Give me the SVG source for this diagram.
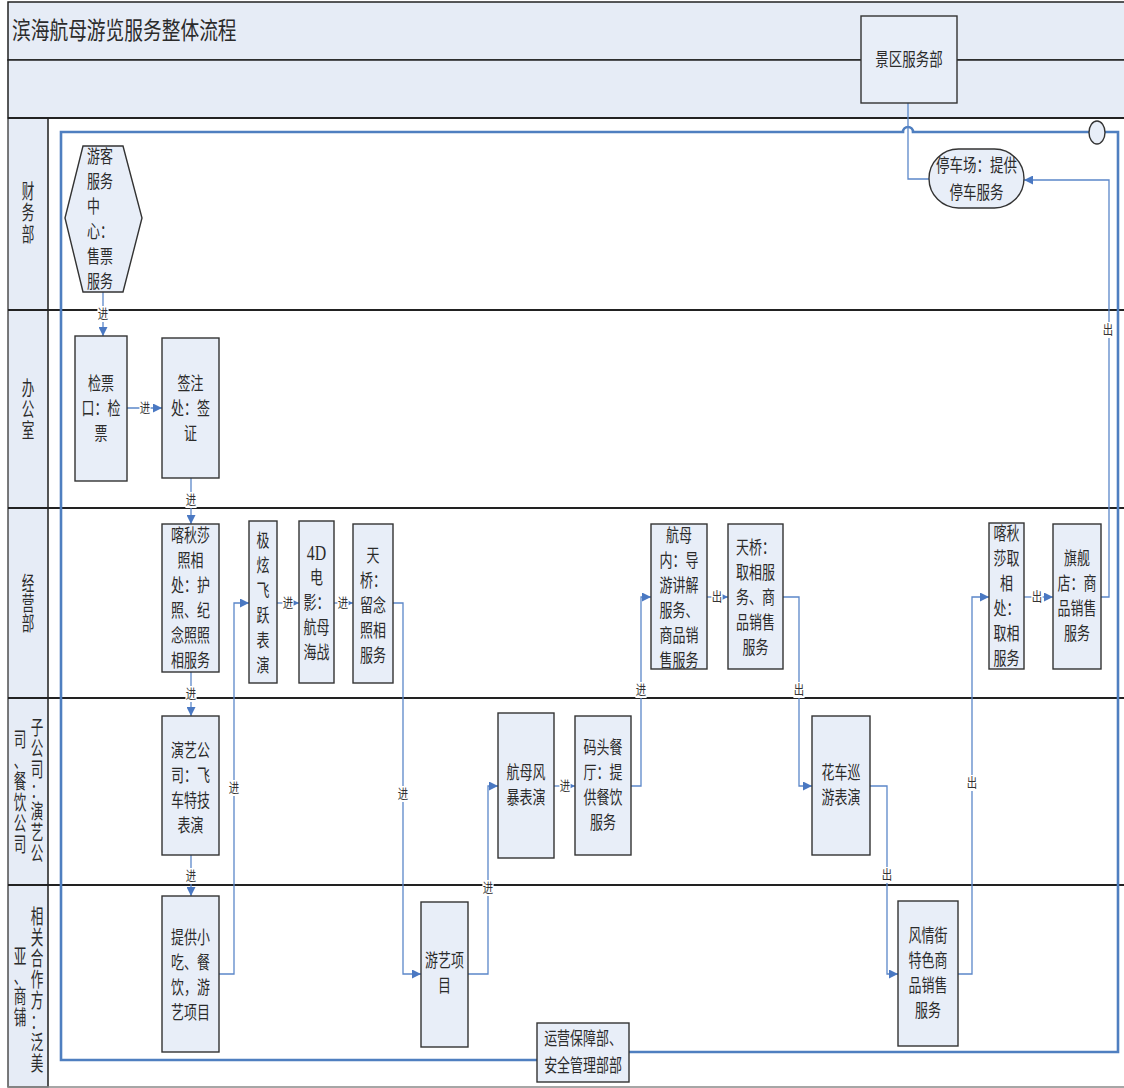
<svg xmlns="http://www.w3.org/2000/svg" width="1124" height="1088" viewBox="0 0 1124 1088">
<style>
.band{fill:#e6ecf6;stroke:#222;stroke-width:1.5}
.node{fill:#e8eef8;stroke:#333;stroke-width:1.4}
.t{font-family:"Liberation Serif","Noto Sans CJK SC",serif;font-size:18px;fill:#2b2b2b;dominant-baseline:central;text-anchor:middle}
.ts{text-anchor:start}
.lane{font-size:20px}
.div{stroke:#222;stroke-width:2}
.conn{fill:none;stroke:#5b87c9;stroke-width:1.3}
.loop{fill:none;stroke:#4f7fc0;stroke-width:2.6}
.l{font-family:"Liberation Serif","Noto Sans CJK SC",serif;font-size:13px;fill:#333;dominant-baseline:central;text-anchor:middle}
.lb{fill:#fff}
</style>
<defs>
<marker id="arr" viewBox="0 0 10 10" refX="10" refY="5" markerWidth="9" markerHeight="9" markerUnits="userSpaceOnUse" orient="auto">
<path d="M0,0 L10,5 L0,10 z" fill="#4a78c2"/>
</marker>
</defs>
<rect width="1124" height="1088" fill="#fff"/>
<g id="frame">
<rect class="band" x="8" y="2" width="1130" height="58"/>
<rect class="band" x="8" y="60" width="1130" height="58"/>
<g transform="translate(12,0) scale(0.78,1)"><text class="t ts" x="0" y="31" style="font-size:24px">滨海航母游览服务整体流程</text></g>
<rect x="8" y="118" width="40" height="969" fill="#e6ecf6" stroke="#444" stroke-width="1.4"/>
<line x1="48" y1="118" x2="48" y2="1087" stroke="#444" stroke-width="1.4"/>
<line class="div" x1="8" y1="118" x2="1130" y2="118"/>
<line class="div" x1="8" y1="310" x2="1130" y2="310"/>
<line class="div" x1="8" y1="508" x2="1130" y2="508"/>
<line class="div" x1="8" y1="698" x2="1130" y2="698"/>
<line class="div" x1="8" y1="885" x2="1130" y2="885"/>
<line x1="8" y1="1087" x2="1130" y2="1087" stroke="#888" stroke-width="1.5"/>
</g>
<g id="lanes">
<g transform="translate(28,0) scale(0.63,1)"><text class="t lane" x="0 0 0" y="192 213 235">财务部</text></g>
<g transform="translate(28,0) scale(0.63,1)"><text class="t lane" x="0 0 0" y="389 410 431">办公室</text></g>
<g transform="translate(28,0) scale(0.63,1)"><text class="t lane" x="0 0 0" y="584 604 624">经营部</text></g>
<g transform="translate(37,0) scale(0.63,1)"><text class="t lane" x="0 0 0 0 0 0 0" y="728 749 770 791 812 833 854">子公司：演艺公</text></g>
<g transform="translate(20,0) scale(0.63,1)"><text class="t lane" x="0 0 0 0 0 0" y="740 761 782 803 824 845">司、餐饮公司</text></g>
<g transform="translate(37,0) scale(0.63,1)"><text class="t lane" x="0 0 0 0 0 0 0 0" y="917 938 959 980 1001 1022 1043 1064">相关合作方：泛美</text></g>
<g transform="translate(20,0) scale(0.63,1)"><text class="t lane" x="0 0 0 0" y="957 977 997 1018">亚、商铺</text></g>
</g>
<g id="connectors">
<path class="loop" d="M537,1060 H61 V132 H903 A5,5 0 0 1 913,132 H1089"/>
<path class="loop" d="M1105,132 H1118 V1052 H629"/>
<path class="conn" d="M908,103 V179 H929"/>
<path class="conn" d="M103,292 V336" marker-end="url(#arr)"/>
<path class="conn" d="M127,408 H162" marker-end="url(#arr)"/>
<path class="conn" d="M191,478 V524" marker-end="url(#arr)"/>
<path class="conn" d="M191,672 V716" marker-end="url(#arr)"/>
<path class="conn" d="M191,855 V896" marker-end="url(#arr)"/>
<path class="conn" d="M219,974 H234 V603 H249" marker-end="url(#arr)"/>
<path class="conn" d="M277,603 H299" marker-end="url(#arr)"/>
<path class="conn" d="M334,603 H353" marker-end="url(#arr)"/>
<path class="conn" d="M393,603 H403 V974 H421" marker-end="url(#arr)"/>
<path class="conn" d="M468,974 H488 V786 H498" marker-end="url(#arr)"/>
<path class="conn" d="M554,786 H575" marker-end="url(#arr)"/>
<path class="conn" d="M631,786 H641 V597 H651" marker-end="url(#arr)"/>
<path class="conn" d="M707,597 H728" marker-end="url(#arr)"/>
<path class="conn" d="M783,597 H799 V786 H812" marker-end="url(#arr)"/>
<path class="conn" d="M870,786 H887 V974 H898" marker-end="url(#arr)"/>
<path class="conn" d="M958,974 H972 V597 H989" marker-end="url(#arr)"/>
<path class="conn" d="M1024,597 H1053" marker-end="url(#arr)"/>
<path class="conn" d="M1101,597 H1109 V180 H1024" marker-end="url(#arr)"/>
<g transform="translate(103,314) scale(0.8,1)"><rect class="lb" x="-7" y="-8" width="14" height="16"/><text class="l">进</text></g>
<g transform="translate(145,408) scale(0.8,1)"><rect class="lb" x="-7" y="-8" width="14" height="16"/><text class="l">进</text></g>
<g transform="translate(191,500) scale(0.8,1)"><rect class="lb" x="-7" y="-8" width="14" height="16"/><text class="l">进</text></g>
<g transform="translate(191,694) scale(0.8,1)"><rect class="lb" x="-7" y="-8" width="14" height="16"/><text class="l">进</text></g>
<g transform="translate(191,876) scale(0.8,1)"><rect class="lb" x="-7" y="-8" width="14" height="16"/><text class="l">进</text></g>
<g transform="translate(234,788) scale(0.8,1)"><rect class="lb" x="-7" y="-8" width="14" height="16"/><text class="l">进</text></g>
<g transform="translate(288,603) scale(0.8,1)"><rect class="lb" x="-7" y="-8" width="14" height="16"/><text class="l">进</text></g>
<g transform="translate(343,603) scale(0.8,1)"><rect class="lb" x="-7" y="-8" width="14" height="16"/><text class="l">进</text></g>
<g transform="translate(403,794) scale(0.8,1)"><rect class="lb" x="-7" y="-8" width="14" height="16"/><text class="l">进</text></g>
<g transform="translate(488,888) scale(0.8,1)"><rect class="lb" x="-7" y="-8" width="14" height="16"/><text class="l">进</text></g>
<g transform="translate(565,786) scale(0.8,1)"><rect class="lb" x="-7" y="-8" width="14" height="16"/><text class="l">进</text></g>
<g transform="translate(641,690) scale(0.8,1)"><rect class="lb" x="-7" y="-8" width="14" height="16"/><text class="l">进</text></g>
<g transform="translate(717,597) scale(0.8,1)"><rect class="lb" x="-7" y="-8" width="14" height="16"/><text class="l">出</text></g>
<g transform="translate(799,690) scale(0.8,1)"><rect class="lb" x="-7" y="-8" width="14" height="16"/><text class="l">出</text></g>
<g transform="translate(887,875) scale(0.8,1)"><rect class="lb" x="-7" y="-8" width="14" height="16"/><text class="l">出</text></g>
<g transform="translate(972,783) scale(0.8,1)"><rect class="lb" x="-7" y="-8" width="14" height="16"/><text class="l">出</text></g>
<g transform="translate(1037,597) scale(0.8,1)"><rect class="lb" x="-7" y="-8" width="14" height="16"/><text class="l">出</text></g>
<g transform="translate(1108,330) scale(0.8,1)"><rect class="lb" x="-7" y="-8" width="14" height="16"/><text class="l">出</text></g>
</g>
<g id="n-end"><ellipse cx="1097" cy="132.5" rx="8" ry="11.5" fill="#e8eef8" stroke="#333" stroke-width="1.4"/></g>
<g id="n-jingqu">
<rect class="node" x="861" y="16" width="96" height="87"/>
<g transform="translate(909,0) scale(0.75,1)"><text class="t" x="0" y="60">景区服务部</text></g>
</g>
<g id="n-tingche">
<rect class="node" x="929" y="149" width="95" height="59" rx="29.5" ry="29.5"/>
<g transform="translate(976.5,0) scale(0.75,1)"><text class="t"><tspan x="0" y="165">停车场：提供</tspan><tspan x="0" y="192">停车服务</tspan></text></g>
</g>
<g id="n-youke">
<polygon class="node" points="83,146 123,146 142,218 123,292 83,292 65,218"/>
<g transform="translate(87,0) scale(0.72,1)"><text class="t ts"><tspan x="0" y="156">游客</tspan><tspan x="0" y="181">服务</tspan><tspan x="0" y="206">中</tspan><tspan x="0" y="231">心：</tspan><tspan x="0" y="256">售票</tspan><tspan x="0" y="281">服务</tspan></text></g>
</g>
<g id="n-jianpiao">
<rect class="node" x="75" y="336" width="52" height="145"/>
<g transform="translate(101,0) scale(0.72,1)"><text class="t"><tspan x="0" y="383">检票</tspan><tspan x="0" y="408">口：检</tspan><tspan x="0" y="433">票</tspan></text></g>
</g>
<g id="n-qianzhu">
<rect class="node" x="162" y="338" width="57" height="140"/>
<g transform="translate(190.5,0) scale(0.72,1)"><text class="t"><tspan x="0" y="383">签注</tspan><tspan x="0" y="408">处：签</tspan><tspan x="0" y="433">证</tspan></text></g>
</g>
<g id="n-katiusha1">
<rect class="node" x="162" y="524" width="57" height="148"/>
<g transform="translate(190.5,0) scale(0.72,1)"><text class="t"><tspan x="0" y="535">喀秋莎</tspan><tspan x="0" y="560">照相</tspan><tspan x="0" y="585">处：护</tspan><tspan x="0" y="610">照、纪</tspan><tspan x="0" y="635">念照照</tspan><tspan x="0" y="660">相服务</tspan></text></g>
</g>
<g id="n-yanyi">
<rect class="node" x="162" y="716" width="57" height="139"/>
<g transform="translate(190.5,0) scale(0.72,1)"><text class="t"><tspan x="0" y="750">演艺公</tspan><tspan x="0" y="775">司：飞</tspan><tspan x="0" y="800">车特技</tspan><tspan x="0" y="825">表演</tspan></text></g>
</g>
<g id="n-xiaochi">
<rect class="node" x="162" y="896" width="57" height="156"/>
<g transform="translate(190.5,0) scale(0.72,1)"><text class="t"><tspan x="0" y="937">提供小</tspan><tspan x="0" y="962">吃、餐</tspan><tspan x="0" y="987">饮，游</tspan><tspan x="0" y="1012">艺项目</tspan></text></g>
</g>
<g id="n-jixuan">
<rect class="node" x="249" y="521" width="28" height="162"/>
<g transform="translate(263,0) scale(0.72,1)"><text class="t"><tspan x="0" y="540">极</tspan><tspan x="0" y="565">炫</tspan><tspan x="0" y="590">飞</tspan><tspan x="0" y="615">跃</tspan><tspan x="0" y="640">表</tspan><tspan x="0" y="665">演</tspan></text></g>
</g>
<g id="n-4d">
<rect class="node" x="299" y="521" width="35" height="162"/>
<g transform="translate(316.5,0) scale(0.72,1)"><text class="t"><tspan x="0" y="552" style="font-size:22px">4D</tspan><tspan x="0" y="577">电</tspan><tspan x="0" y="602">影：</tspan><tspan x="0" y="627">航母</tspan><tspan x="0" y="652">海战</tspan></text></g>
</g>
<g id="n-tianqiao1">
<rect class="node" x="353" y="524" width="40" height="159"/>
<g transform="translate(373,0) scale(0.72,1)"><text class="t"><tspan x="0" y="555">天</tspan><tspan x="0" y="580">桥：</tspan><tspan x="0" y="605">留念</tspan><tspan x="0" y="630">照相</tspan><tspan x="0" y="655">服务</tspan></text></g>
</g>
<g id="n-youyi">
<rect class="node" x="421" y="902" width="47" height="145"/>
<g transform="translate(444.5,0) scale(0.72,1)"><text class="t"><tspan x="0" y="960">游艺项</tspan><tspan x="0" y="985">目</tspan></text></g>
</g>
<g id="n-fengbao">
<rect class="node" x="498" y="713" width="56" height="145"/>
<g transform="translate(526,0) scale(0.72,1)"><text class="t"><tspan x="0" y="772">航母风</tspan><tspan x="0" y="797">暴表演</tspan></text></g>
</g>
<g id="n-matou">
<rect class="node" x="575" y="716" width="56" height="139"/>
<g transform="translate(603,0) scale(0.72,1)"><text class="t"><tspan x="0" y="747">码头餐</tspan><tspan x="0" y="772">厅：提</tspan><tspan x="0" y="797">供餐饮</tspan><tspan x="0" y="822">服务</tspan></text></g>
</g>
<g id="n-hangmunei">
<rect class="node" x="651" y="524" width="56" height="145"/>
<g transform="translate(679,0) scale(0.72,1)"><text class="t"><tspan x="0" y="535">航母</tspan><tspan x="0" y="560">内：导</tspan><tspan x="0" y="585">游讲解</tspan><tspan x="0" y="610">服务、</tspan><tspan x="0" y="635">商品销</tspan><tspan x="0" y="660">售服务</tspan></text></g>
</g>
<g id="n-tianqiao2">
<rect class="node" x="728" y="524" width="55" height="145"/>
<g transform="translate(755.5,0) scale(0.72,1)"><text class="t"><tspan x="0" y="547">天桥：</tspan><tspan x="0" y="572">取相服</tspan><tspan x="0" y="597">务、商</tspan><tspan x="0" y="622">品销售</tspan><tspan x="0" y="647">服务</tspan></text></g>
</g>
<g id="n-huache">
<rect class="node" x="812" y="716" width="58" height="139"/>
<g transform="translate(841,0) scale(0.72,1)"><text class="t"><tspan x="0" y="772">花车巡</tspan><tspan x="0" y="797">游表演</tspan></text></g>
</g>
<g id="n-fengqing">
<rect class="node" x="898" y="901" width="60" height="145"/>
<g transform="translate(928,0) scale(0.72,1)"><text class="t"><tspan x="0" y="935">风情街</tspan><tspan x="0" y="960">特色商</tspan><tspan x="0" y="985">品销售</tspan><tspan x="0" y="1010">服务</tspan></text></g>
</g>
<g id="n-katiusha2">
<rect class="node" x="989" y="523" width="35" height="146"/>
<g transform="translate(1006.5,0) scale(0.72,1)"><text class="t"><tspan x="0" y="533">喀秋</tspan><tspan x="0" y="558">莎取</tspan><tspan x="0" y="583">相</tspan><tspan x="0" y="608">处：</tspan><tspan x="0" y="633">取相</tspan><tspan x="0" y="658">服务</tspan></text></g>
</g>
<g id="n-qijian">
<rect class="node" x="1053" y="524" width="48" height="145"/>
<g transform="translate(1077,0) scale(0.72,1)"><text class="t"><tspan x="0" y="558">旗舰</tspan><tspan x="0" y="583">店：商</tspan><tspan x="0" y="608">品销售</tspan><tspan x="0" y="633">服务</tspan></text></g>
</g>
<g id="n-yunying">
<rect class="node" x="537" y="1023" width="92" height="59"/>
<g transform="translate(583,0) scale(0.72,1)"><text class="t"><tspan x="0" y="1038">运营保障部、</tspan><tspan x="0" y="1065">安全管理部部</tspan></text></g>
</g>
</svg>
